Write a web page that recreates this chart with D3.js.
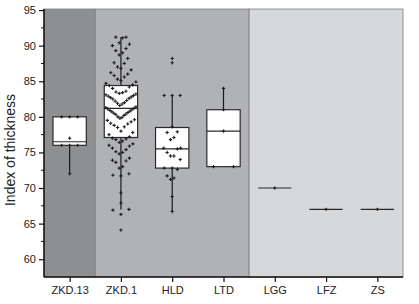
<!DOCTYPE html>
<html><head><meta charset="utf-8">
<script src="https://cdn.jsdelivr.net/npm/d3@7"></script>
<style>html,body{margin:0;padding:0;background:#fff;}svg{display:block;font-family:"Liberation Sans",Arial,sans-serif;}</style>
</head><body>
<svg id="chart" width="419" height="304"></svg>
<script>
const categories = ["ZKD.13","ZKD.1","HLD","LTD","LGG","LFZ","ZS"];
const boxQ1 =      [76,   77.1, 72.8, 73, 70, 67, 67];
const boxMedian =  [76.5, 81.2, 75.5, 78, 70, 67, 67];
const boxQ3 =      [80,   84.4, 78.5, 81, 70, 67, 67];
const whiskerLow = [72,   67,   66.7, 73, 70, 67, 67];
const whiskerHigh =[80,   91.2, 83,   84, 70, 67, 67];
const yTicks = [60,65,70,75,80,85,90,95];
const yMinorTicks = [62.5,67.5,72.5,77.5,82.5,87.5,92.5];
const panelStart = [0,1,4];
const panelEnd = [0,3,6];
const panelColors = ["#8e8f91","#b1b2b5","#d7d8da"];

const zkd13Points = [80,80,80,77,76,76,76,72];
const zkd1Points = [91.2,91.2,91.1,90.4,90.2,90.0,89.6,89.3,89.0,88.7,88.2,87.6,87.5,87.0,86.8,86.6,86.2,86.0,85.8,85.6,85.3,85.1,84.9,84.7,84.5,
  84.4,84.2,84.0,83.6,83.5,83.4,83.3,83.2,83.1,83.0,82.9,82.8,82.7,82.6,82.5,82.3,82.2,82.0,81.9,81.8,81.6,81.4,81.3,81.2,
  81.1,81.0,80.9,80.8,80.7,80.6,80.5,80.4,80.3,80.2,80.0,79.9,79.8,79.6,79.5,79.3,79.1,79.0,78.8,78.6,78.5,78.0,77.8,77.5,77.2,
  77.0,76.9,76.8,76.6,76.4,76.2,76.0,75.9,75.6,75.4,75.1,75.0,74.8,74.2,73.9,73.8,73.6,73.0,72.8,72.0,71.8,71.7,69.3,67.9,67.0,66.9,66.3,64.1];
const hldPoints = [88.2,87.6,83.0,83.0,83.0,78.6,77.9,77.8,77.1,76.8,75.6,75.6,75.5,75.0,74.5,74.5,74.0,72.8,72.8,72.6,71.7,71.4,71.2,68.8,66.7];
const ltdPoints = [84,81,78,73,73];
const lggPoints = [70];
const lfzPoints = [67];
const zsPoints = [67];
const groupPoints = [zkd13Points, zkd1Points, hldPoints, ltdPoints, lggPoints, lfzPoints, zsPoints];

const svg = d3.select("#chart");
const L = 44, R = 403, T = 9, B = 277;
const x = d3.scalePoint().domain(categories).range([L, R]).padding(0.5);
const y = d3.scaleLinear().domain([57.5, 95.15]).range([B, T]);
const step = x.step();
const boxW = step * 0.65;

// panels
panelStart.forEach((s, i) => {
  const x0 = Math.max(L, x(categories[s]) - step / 2);
  const x1 = Math.min(R, x(categories[panelEnd[i]]) + step / 2);
  svg.append("rect").attr("x", x0).attr("y", T).attr("width", x1 - x0).attr("height", B - T)
    .attr("fill", panelColors[i]).attr("stroke", "#7d7e80").attr("stroke-width", 0.8);
});

const g = svg.append("g");
categories.forEach((c, i) => {
  const cx = x(c);
  g.append("line").attr("x1", cx).attr("x2", cx).attr("y1", y(whiskerHigh[i])).attr("y2", y(boxQ3[i]))
    .attr("stroke", "#1a1a1a").attr("stroke-width", 1.2);
  g.append("line").attr("x1", cx).attr("x2", cx).attr("y1", y(boxQ1[i])).attr("y2", y(whiskerLow[i]))
    .attr("stroke", "#1a1a1a").attr("stroke-width", 1.2);
  g.append("rect").attr("x", cx - boxW / 2).attr("y", y(boxQ3[i])).attr("width", boxW)
    .attr("height", Math.max(0, y(boxQ1[i]) - y(boxQ3[i])))
    .attr("fill", "#fff").attr("stroke", "#2a2a2a").attr("stroke-width", 1.2);
  g.append("line").attr("x1", cx - boxW / 2).attr("x2", cx + boxW / 2).attr("y1", y(boxMedian[i])).attr("y2", y(boxMedian[i]))
    .attr("stroke", "#2a2a2a").attr("stroke-width", 1.2);
});

// points in bin layout
const binW = 1.75, binOrigin = 81.5;
const cross = d3.symbol().type(d3.symbolCross).size(6);
categories.forEach((c, i) => {
  const cx = x(c);
  const bins = d3.group(groupPoints[i], v => Math.floor((v - binOrigin) / binW));
  bins.forEach(vals => {
    const sorted = vals.slice().sort((a, b) => a - b);
    const n = sorted.length;
    let st;
    if (n === 1) st = 0;
    else if (n === 2) st = sorted[0] === sorted[1] ? 20 : 0;
    else if (n === 3) st = 8;
    else st = Math.min(3.4, 30 / (n - 1));
    const offs = d3.range(n).map(k => k - (n - 1) / 2).sort((a, b) => Math.abs(a) - Math.abs(b) || a - b);
    sorted.forEach((v, k) => {
      g.append("path").attr("d", cross).attr("fill", "#1e1e1e")
        .attr("transform", `translate(${cx + offs[k] * st},${y(v)})`);
    });
  });
});

// axes
const ya = svg.append("g").attr("transform", `translate(${L},0)`)
  .call(d3.axisLeft(y).tickValues(yTicks).tickSize(5).tickSizeOuter(0).tickPadding(3));
ya.append("g").selectAll("line").data(yMinorTicks).join("line")
  .attr("x1", 0).attr("x2", -3).attr("y1", d => y(d)).attr("y2", d => y(d)).attr("stroke", "#111");
const xa = svg.append("g").attr("transform", `translate(0,${B})`)
  .call(d3.axisBottom(x).tickSize(5).tickSizeOuter(0).tickPadding(4));
[ya, xa].forEach(a => {
  a.select(".domain").attr("stroke", "#111").attr("stroke-width", 1.5);
  a.selectAll(".tick line").attr("stroke", "#111").attr("stroke-width", 1.2);
  a.selectAll("text").attr("fill", "#222").style("font-size", "11px").style("font-family", "Liberation Sans, Arial, sans-serif");
});
ya.select(".domain").attr("d", `M0,${B}V${T}`);
xa.select(".domain").attr("d", `M${L},0H${R}`);

svg.append("text").attr("transform", `translate(15,150) rotate(-90)`).attr("text-anchor", "middle")
  .attr("fill", "#222").style("font-size", "14px").text("Index of thickness");
</script>
</body></html>
